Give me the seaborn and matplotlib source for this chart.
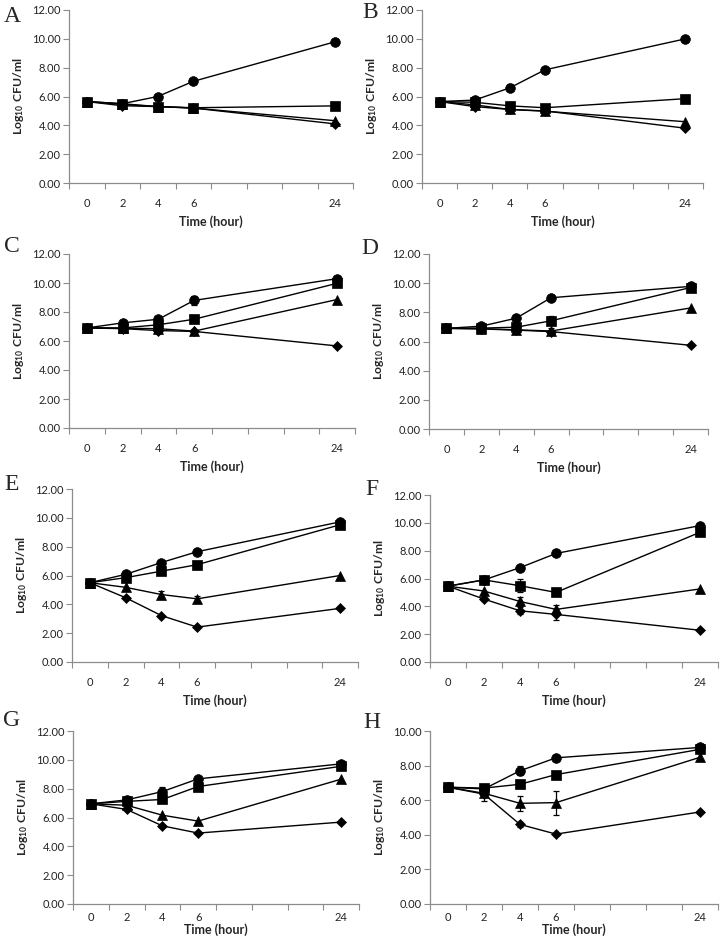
import numpy as np
import pandas as pd
import matplotlib
matplotlib.use('Agg')
import matplotlib.pyplot as plt
import seaborn as sns

###
### DATA
###

### Excel-style category axis: 8 slots, the last one is 24 h
categories = ['0', '2', '4', '6', '', '', '', '24']
time_labels = ['0', '2', '4', '6', '24']
panel_names = ['A', 'B', 'C', 'D', 'E', 'F', 'G', 'H']

### log10 CFU/ml, one row per panel A..H
circle = [[5.65, 5.50, 6.00, 7.05, 9.80],
          [5.65, 5.75, 6.60, 7.85, 10.00],
          [6.90, 7.25, 7.50, 8.80, 10.30],
          [6.90, 7.05, 7.60, 9.00, 9.78],
          [5.50, 6.08, 6.90, 7.65, 9.72],
          [5.45, 5.90, 6.78, 7.80, 9.80],
          [6.95, 7.22, 7.80, 8.68, 9.72],
          [6.75, 6.65, 7.70, 8.45, 9.05]]
square = [[5.65, 5.50, 5.30, 5.22, 5.35],
          [5.65, 5.60, 5.35, 5.22, 5.85],
          [6.90, 6.90, 7.12, 7.50, 9.98],
          [6.90, 6.92, 6.98, 7.42, 9.70],
          [5.50, 5.85, 6.30, 6.75, 9.52],
          [5.45, 5.90, 5.48, 5.00, 9.32],
          [6.95, 7.12, 7.25, 8.15, 9.55],
          [6.75, 6.70, 6.92, 7.48, 8.94]]
triangle = [[5.65, 5.45, 5.30, 5.20, 4.32],
            [5.65, 5.42, 5.10, 4.98, 4.25],
            [6.90, 6.88, 6.85, 6.68, 8.86],
            [6.90, 6.88, 6.80, 6.72, 8.30],
            [5.50, 5.18, 4.68, 4.38, 6.00],
            [5.45, 5.10, 4.35, 3.78, 5.25],
            [6.95, 6.85, 6.16, 5.75, 8.66],
            [6.75, 6.40, 5.82, 5.86, 8.48]]
diamond = [[5.65, 5.36, 5.30, 5.20, 4.10],
           [5.65, 5.30, 5.10, 5.00, 3.80],
           [6.90, 6.85, 6.72, 6.66, 5.66],
           [6.90, 6.86, 6.78, 6.68, 5.74],
           [5.50, 4.46, 3.22, 2.42, 3.72],
           [5.45, 4.52, 3.68, 3.42, 2.28],
           [6.95, 6.56, 5.42, 4.92, 5.68],
           [6.75, 6.35, 4.60, 4.04, 5.32]]

### standard deviations (only the ones visible outside the markers)
circle_err = [[0, 0, 0, 0, 0],
              [0, 0, 0.25, 0, 0],
              [0, 0, 0, 0.30, 0],
              [0, 0, 0.15, 0, 0],
              [0, 0, 0, 0, 0],
              [0, 0, 0, 0.20, 0],
              [0, 0, 0.30, 0, 0],
              [0, 0, 0.25, 0, 0]]
square_err = [[0, 0, 0, 0, 0],
              [0, 0, 0, 0, 0],
              [0, 0, 0, 0, 0],
              [0, 0, 0, 0.30, 0],
              [0, 0, 0, 0, 0],
              [0, 0, 0.45, 0, 0],
              [0, 0, 0, 0, 0],
              [0, 0, 0, 0, 0]]
triangle_err = [[0, 0, 0, 0, 0],
                [0, 0, 0, 0.12, 0],
                [0, 0, 0, 0, 0],
                [0, 0, 0, 0.20, 0],
                [0, 0, 0.25, 0.20, 0],
                [0, 0, 0.35, 0.35, 0],
                [0, 0, 0, 0, 0],
                [0, 0.45, 0.45, 0.70, 0]]
diamond_err = [[0, 0, 0, 0, 0],
               [0, 0, 0, 0, 0],
               [0, 0, 0, 0, 0],
               [0, 0, 0, 0, 0],
               [0, 0, 0, 0, 0],
               [0, 0, 0.25, 0.40, 0],
               [0, 0, 0, 0, 0],
               [0, 0, 0.15, 0, 0]]

### y-axis upper limit per panel
y_max = [12, 12, 12, 12, 12, 12, 12, 10]

###
### STYLE & LAYOUT
###

sns.set_style('white')
plt.rcParams['font.family'] = ['Lato', 'DejaVu Sans']
plt.rcParams['mathtext.fontset'] = 'custom'
plt.rcParams['mathtext.rm'] = 'Lato:bold'
plt.rcParams['mathtext.default'] = 'rm'

W, H = 720, 944
fig = plt.figure(figsize=(W / 100, H / 100), dpi=100)

### axes boxes in pixels: left, top, right, bottom
boxes = [(69, 10, 353, 183), (422, 10, 703, 183),
         (69, 254, 355, 428), (429, 254, 708, 429),
         (72, 489, 358, 662), (430, 495, 718, 662),
         (73, 731, 359, 904), (430, 731, 718, 904)]
letter_pos = [(12, 16), (370, 13), (12, 247), (370, 248),
              (12, 485), (372, 490), (12, 720), (372, 722)]
### tick-label pad and x-label pad (bottom row is squeezed)
x_pads = [(11, 4), (11, 4), (11, 4), (11, 4), (11, 4), (11, 4), (6, 0), (6, 0)]

marker_style = {'diamond': ('D', 5.0), 'triangle': ('^', 6.5),
                'circle': ('o', 7.0), 'square': ('s', 6.5)}
axis_grey = '#8c8c8c'

x_pos = [categories.index(t) for t in time_labels]

for i, name in enumerate(panel_names):
    l, t, r, b = boxes[i]
    ax = fig.add_axes([l / W, 1 - b / H, (r - l) / W, (b - t) / H])

    series = {'diamond': (diamond[i], diamond_err[i]),
              'triangle': (triangle[i], triangle_err[i]),
              'circle': (circle[i], circle_err[i]),
              'square': (square[i], square_err[i])}

    for key, (vals, errs) in series.items():
        mk, ms = marker_style[key]
        df = pd.DataFrame({'x': x_pos, 'y': vals})
        errs = np.array(errs)
        show = errs > 0
        if show.any():
            ax.errorbar(np.array(x_pos)[show], np.array(vals)[show], yerr=errs[show],
                        fmt='none', ecolor='black', elinewidth=0.9, capsize=2.5,
                        capthick=0.9, zorder=2)
        sns.lineplot(data=df, x='x', y='y', ax=ax, color='black', lw=1.0,
                     marker=mk, markersize=ms, markeredgecolor='black',
                     markerfacecolor='black', markeredgewidth=0.5,
                     clip_on=False, zorder=3)

    ax.set_xlim(-0.5, len(categories) - 0.5)
    ax.set_ylim(0, y_max[i])
    ax.set_xticks(x_pos)
    ax.set_xticklabels(time_labels)
    ax.set_xticks(np.arange(-0.5, len(categories)), minor=True)
    ax.set_yticks(np.arange(0, y_max[i] + 0.1, 2))
    ax.set_yticklabels(['%.2f' % v for v in np.arange(0, y_max[i] + 0.1, 2)])
    tick_pad, label_pad = x_pads[i]
    ax.tick_params(axis='x', which='major', length=0, pad=tick_pad, labelsize=8, colors='#222222')
    ax.tick_params(axis='x', which='minor', length=4, width=0.8, direction='out', color=axis_grey, bottom=True)
    ax.tick_params(axis='y', which='major', length=4, width=0.8, direction='out', color=axis_grey,
                   labelsize=8, pad=2, left=True, labelcolor='#222222')
    for side in ['top', 'right']:
        ax.spines[side].set_visible(False)
    for side in ['left', 'bottom']:
        ax.spines[side].set_color(axis_grey)
        ax.spines[side].set_linewidth(0.9)

    ax.set_xlabel('Time (hour)', fontsize=9, fontweight='bold', labelpad=label_pad)
    ax.set_ylabel(r'Log$_{10}$ CFU/ml', fontsize=8.8, fontweight='bold', labelpad=4)

    lx, ly = letter_pos[i]
    fig.text(lx / W, 1 - ly / H, name, fontsize=17, family='Liberation Serif',
             ha='center', va='center')

fig.savefig('out.png', dpi=100)
